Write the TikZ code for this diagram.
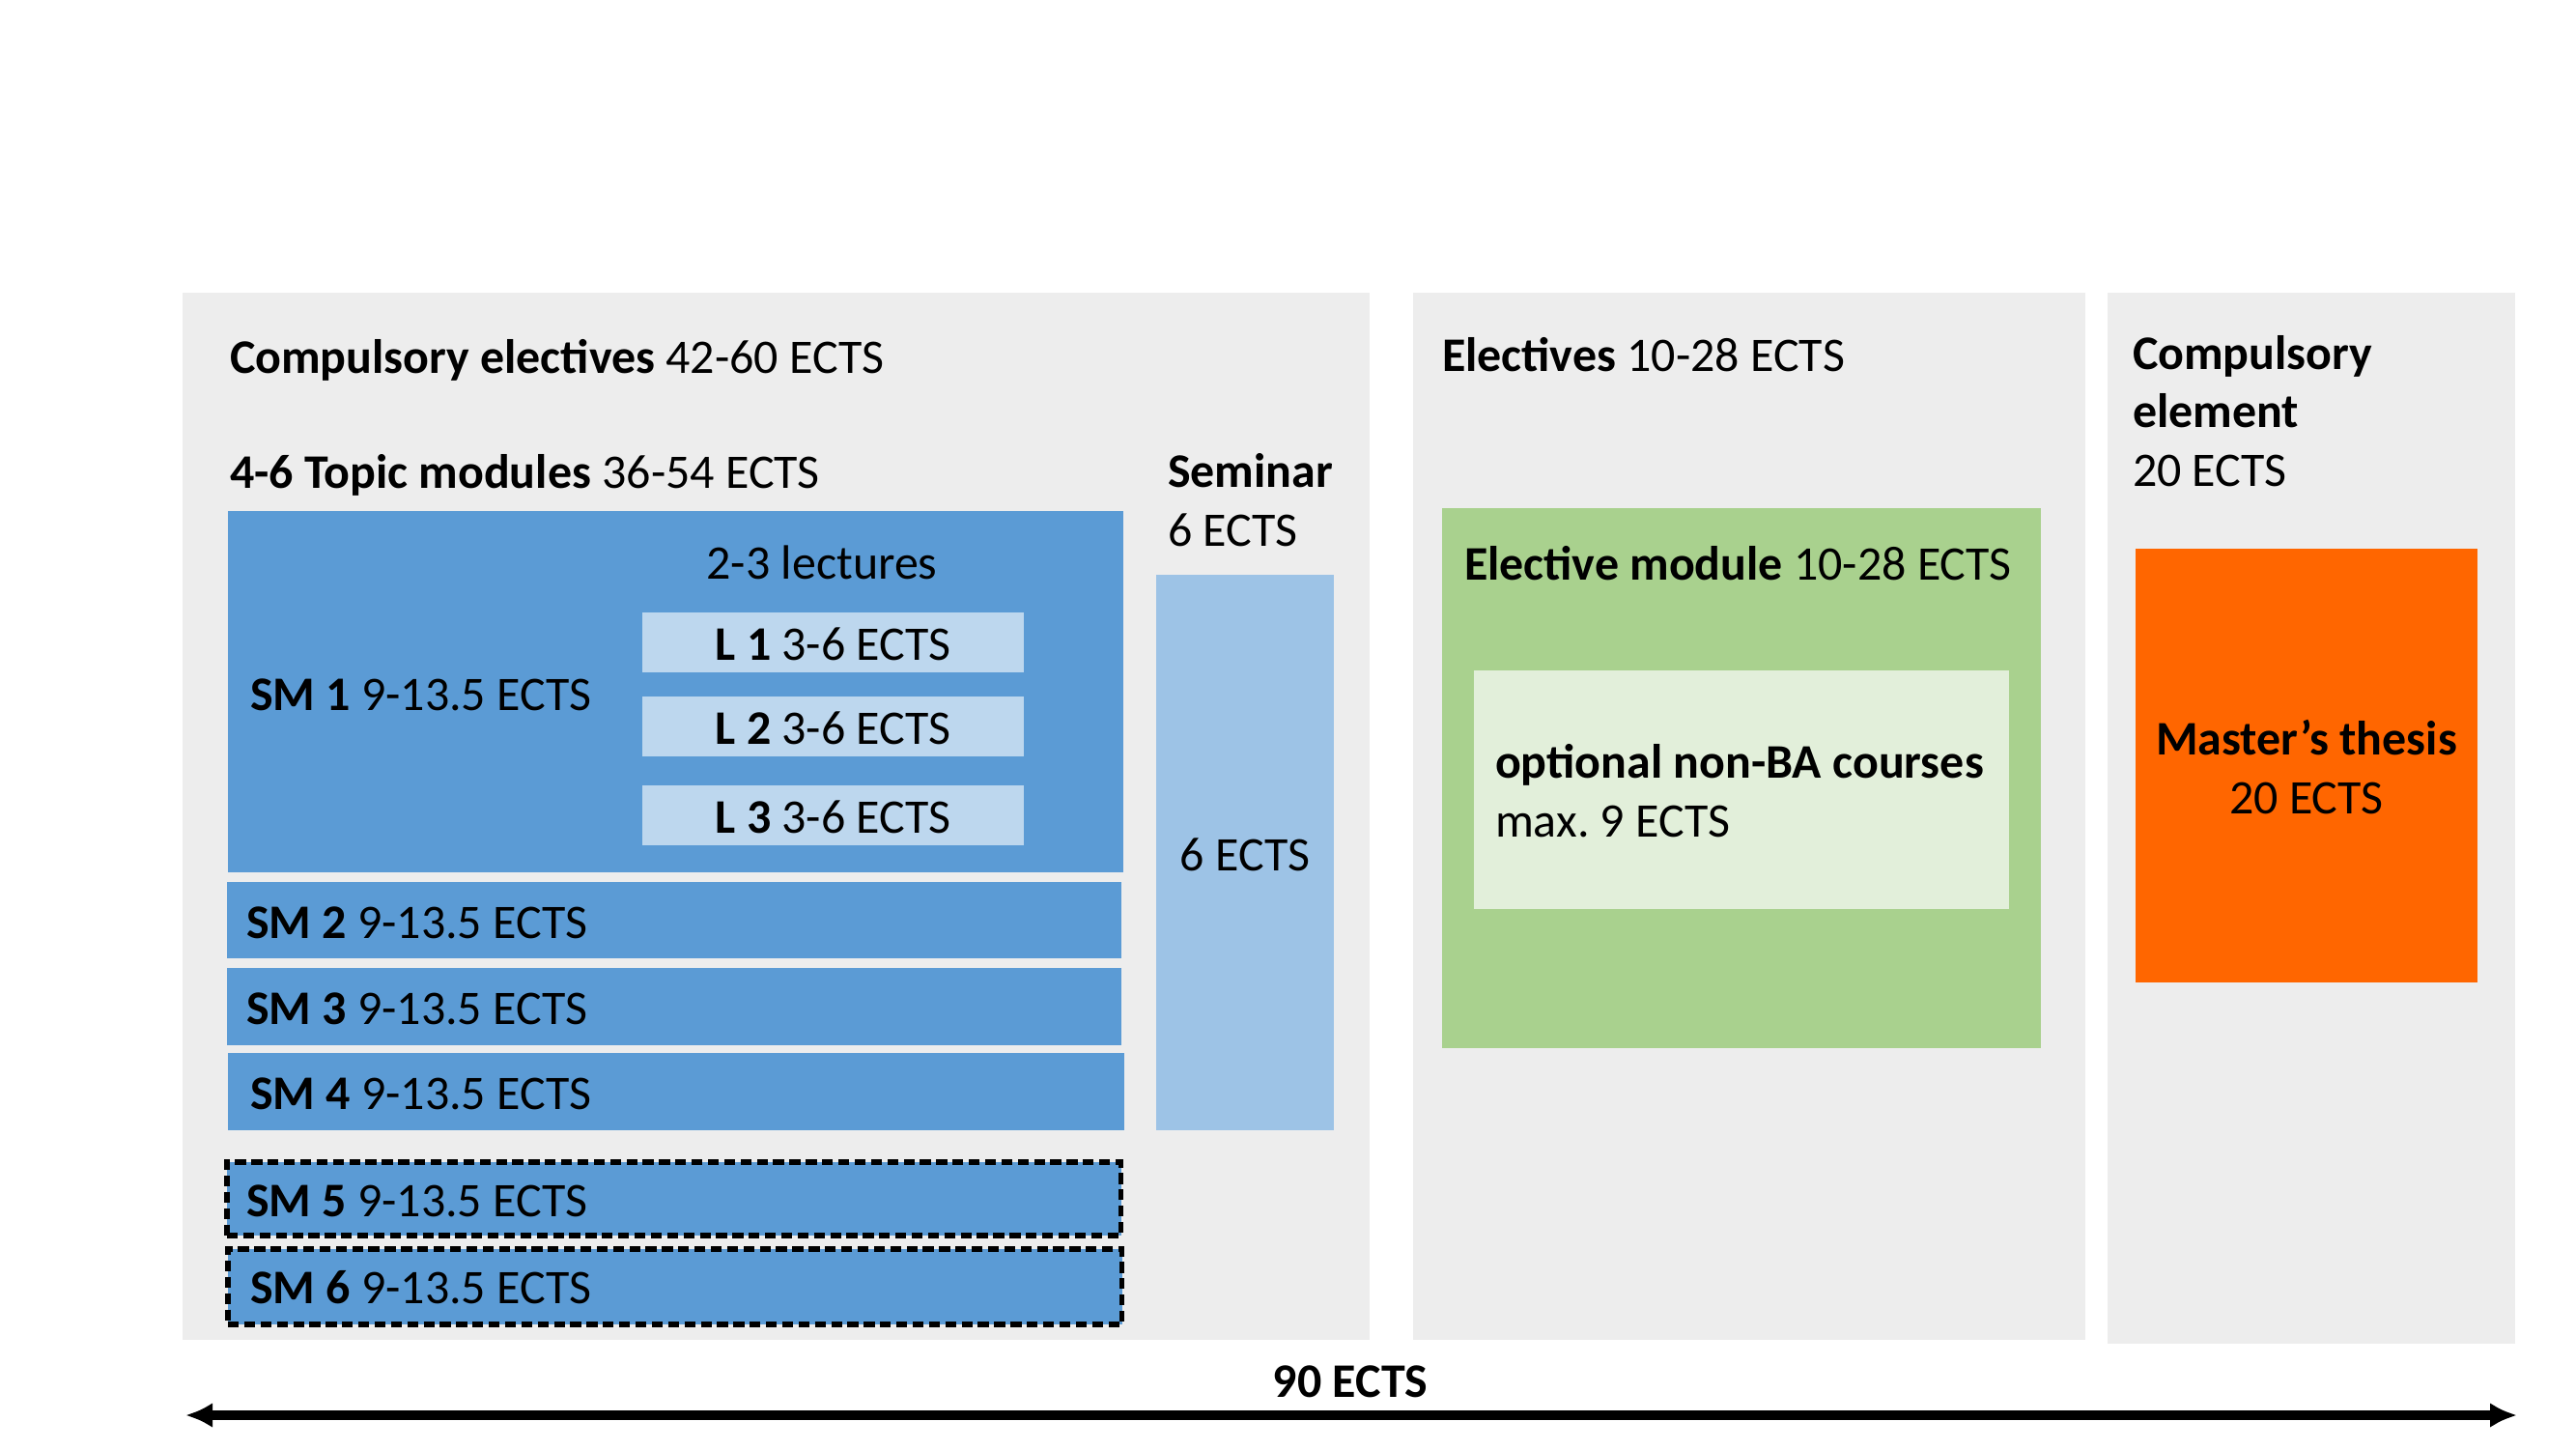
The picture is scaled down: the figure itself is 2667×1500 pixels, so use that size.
\documentclass[tikz,border=0pt]{standalone}
\usepackage{fontspec}
\setmainfont{Carlito}
\usetikzlibrary{arrows.meta}
\frenchspacing
\definecolor{panelgray}{HTML}{EDEDED}
\definecolor{smblue}{HTML}{5B9BD5}
\definecolor{lblue}{HTML}{BDD7EE}
\definecolor{semblue}{HTML}{9DC3E6}
\definecolor{egreen}{HTML}{A9D18E}
\definecolor{lgreen}{HTML}{E2EFDA}
\definecolor{thesis}{HTML}{FF6600}
\tikzset{
  rbox/.style={rectangle, inner sep=0pt, outer sep=0pt, anchor=north west},
  panel/.style={rbox, fill=panelgray},
  smbox/.style={rbox, fill=smblue, minimum width=9.25cm},
  smdash/.style={smbox, draw=black, dashed, line width=1.6pt, dash pattern=on 3.2pt off 1.6pt},
  lbox/.style={rbox, fill=lblue, minimum width=3.95cm, minimum height=0.62cm},
  txt/.style={inner sep=0pt, outer sep=0pt, anchor=base west, align=left, font=\fontsize{14.2}{17.07}\selectfont},
  ctxt/.style={inner sep=0pt, outer sep=0pt, align=center, font=\fontsize{14.2}{17.07}\selectfont},
  bigarrow/.style={line width=2.6pt, {Latex[length=0.28cm,width=0.26cm]}-{Latex[length=0.28cm,width=0.26cm]}}
}
\begin{document}
\begin{tikzpicture}[x=0.01cm,y=-0.01cm]
\useasboundingbox (0,0) rectangle (2667,1500);
\fill[white] (0,0) rectangle (2667,1500);
% panels
\node[panel, minimum width=12.28cm, minimum height=10.83cm] (p1) at (189,303) {};
\node[panel, minimum width=6.96cm, minimum height=10.83cm] (p2) at (1463,303) {};
\node[panel, minimum width=4.22cm, minimum height=10.87cm] (p3) at (2182,303) {};
% panel 1
\node[txt] (t1) at (238,386) {\textbf{Compulsory electives} 42-60 ECTS};
\node[txt] (t2) at (238,505) {\textbf{4-6 Topic modules} 36-54 ECTS};
\node[smbox, minimum width=9.26cm, minimum height=3.74cm] (sm1) at (236,529) {};
\node[ctxt, anchor=base] (lec) at (851,599) {2-3 lectures};
\node[lbox] (l1) at (665,634) {};
\node[ctxt] (l1t) at ([yshift=-0.02cm]l1.center) {\textbf{L 1} 3-6 ECTS};
\node[lbox] (l2) at (665,721) {};
\node[ctxt] (l2t) at ([yshift=-0.02cm]l2.center) {\textbf{L 2} 3-6 ECTS};
\node[lbox] (l3) at (665,813) {};
\node[ctxt] (l3t) at ([yshift=-0.02cm]l3.center) {\textbf{L 3} 3-6 ECTS};
\node[txt] (sm1t) at (259,735) {\textbf{SM 1} 9-13.5 ECTS};
\node[smbox, minimum height=0.79cm] (sm2) at (235,913) {};
\node[txt] (sm2t) at (255,971) {\textbf{SM 2} 9-13.5 ECTS};
\node[smbox, minimum height=0.80cm] (sm3) at (235,1002) {};
\node[txt] (sm3t) at (255,1060) {\textbf{SM 3} 9-13.5 ECTS};
\node[smbox, minimum height=0.80cm, minimum width=9.27cm] (sm4) at (236,1090) {};
\node[txt] (sm4t) at (259,1148) {\textbf{SM 4} 9-13.5 ECTS};
\node[smdash, minimum height=0.76cm] (sm5) at (235,1203) {};
\node[txt] (sm5t) at (255,1259) {\textbf{SM 5} 9-13.5 ECTS};
\node[smdash, minimum height=0.78cm] (sm6) at (236,1293) {};
\node[txt] (sm6t) at (259,1349) {\textbf{SM 6} 9-13.5 ECTS};
\node[txt] (semt) at (1209,565) {\textbf{Seminar}\\6 ECTS};
\node[rbox, fill=semblue, minimum width=1.84cm, minimum height=5.75cm] (sem) at (1197,595) {};
\node[ctxt] (semb) at ([yshift=-0.02cm]sem.center) {6 ECTS};
% panel 2
\node[txt] (t3) at (1493,384) {\textbf{Electives} 10-28 ECTS};
\node[rbox, fill=egreen, minimum width=6.20cm, minimum height=5.59cm] (em) at (1493,526) {};
\node[txt] (emt) at (1516,600) {\textbf{Elective module} 10-28 ECTS};
\node[rbox, fill=lgreen, minimum width=5.54cm, minimum height=2.47cm] (opt) at (1526,694) {};
\node[txt] (optt) at (1548,866) {\textbf{optional non-BA courses}\\max. 9 ECTS};
% panel 3
\node[txt] (t4) at (2208,503) {\textbf{Compulsory}\\\textbf{element}\\20 ECTS};
\node[rbox, fill=thesis, minimum width=3.54cm, minimum height=4.49cm] (th) at (2211,568) {};
\node[ctxt, anchor=base] (tht) at (2388,842) {\textbf{Master’s thesis}\\20 ECTS};
% bottom arrow
\node[ctxt, anchor=base] (tot) at (1398,1446) {\textbf{90 ECTS}};
\coordinate (aL) at (192,1465);
\coordinate (aR) at (2606,1465);
\draw[bigarrow] (aL) -- (aR);
\end{tikzpicture}
\end{document}
